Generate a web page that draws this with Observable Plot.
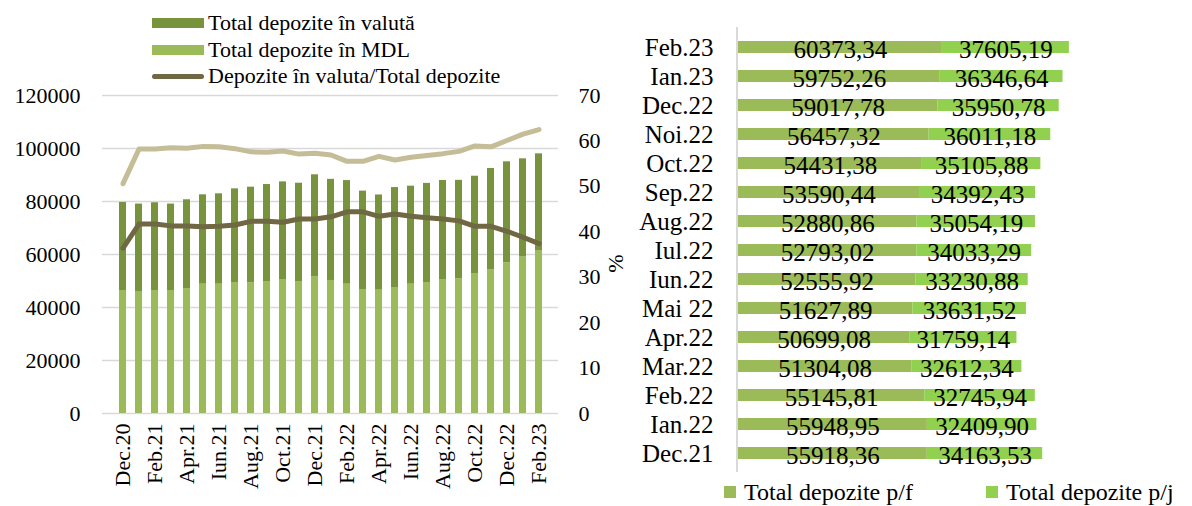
<!DOCTYPE html>
<html><head><meta charset="utf-8">
<script src="https://cdn.jsdelivr.net/npm/d3@7"></script>
<script src="https://cdn.jsdelivr.net/npm/@observablehq/plot@0.6"></script>
<style>
body{margin:0;background:#fff;font-family:"Liberation Serif",serif;}
#wrap{position:relative;width:1192px;height:506px;overflow:hidden;background:#fff;}
#left,#right{position:absolute;top:0;}
#left{left:0}
#right{left:600px}
.lg{position:absolute;display:flex;align-items:center;white-space:nowrap;color:#000;font-family:"Liberation Serif",serif;}
.sw{flex:none;}
</style></head><body>
<div id="wrap"><div id="left"></div><div id="right"></div></div>
<script>
// ---- Left chart data ----
const months = ["Dec.20","Ian.21","Feb.21","Mar.21","Apr.21","Mai.21","Iun.21","Iul.21","Aug.21","Sep.21","Oct.21","Noi.21",
  "Dec.21","Ian.22","Feb.22","Mar.22","Apr.22","Mai.22","Iun.22","Iul.22","Aug.22","Sep.22","Oct.22","Noi.22","Dec.22","Ian.23","Feb.23"];
const tickLabels = ["Dec.20","Feb.21","Apr.21","Iun.21","Aug.21","Oct.21","Dec.21","Feb.22","Apr.22","Iun.22","Aug.22","Oct.22","Dec.22","Feb.23"];
const mdl = [46400,46050,46400,46400,47150,48800,48800,49400,49300,49800,50550,49800,
  51650,50200,48800,46800,46550,47550,48800,49400,50550,50800,52650,54150,56900,59050,61300];
const valuta = [33250,32980,33130,32630,33500,33725,34100,35375,36100,36600,36850,37100,
  38432,38159,39092,37116,35908,37709,36987,37426,37385,37183,36887,38319,38069,37049,36679];
const shareValuta = [36.4,41.7,41.7,41.3,41.3,41.1,41.2,41.5,42.3,42.3,42.1,42.8,
  42.8,43.3,44.4,44.4,43.4,43.9,43.4,43.1,42.8,42.4,41.2,41.2,40.1,38.8,37.4];
const shareMDL = [50.6,58.2,58.2,58.5,58.4,58.8,58.7,58.3,57.6,57.5,57.8,57.1,
  57.3,56.9,55.5,55.5,56.6,55.8,56.4,56.8,57.2,57.7,58.9,58.7,60.1,61.5,62.5];
const leftTicks = [0,20000,40000,60000,80000,100000,120000];
const pctTicks = [0,10,20,30,40,50,60,70];

// ---- Right chart data ----
const rightMonths = ["Feb.23","Ian.23","Dec.22","Noi.22","Oct.22","Sep.22","Aug.22","Iul.22","Iun.22","Mai 22","Apr.22","Mar.22","Feb.22","Ian.22","Dec.21"];
const depPF = [60373.34,59752.26,59017.78,56457.32,54431.38,53590.44,52880.86,52793.02,52555.92,51627.89,50699.08,51304.08,55145.81,55948.95,55918.36];
const depPJ = [37605.19,36346.64,35950.78,36011.18,35105.88,34392.43,35054.19,34033.29,33230.88,33631.52,31759.14,32612.34,32745.94,32409.90,34163.53];

const FONT = "Liberation Serif";
const kPct = 120000 / 70;

const barRows = [];
months.forEach((m, i) => {
  barRows.push({m, s: "Total depozite în MDL", v: mdl[i]});
  barRows.push({m, s: "Total depozite în valută", v: valuta[i]});
});
const lineRows = months.map((m, i) => ({m, a: shareValuta[i], b: shareMDL[i]}));

const left = Plot.plot({
  width: 640, height: 506,
  marginLeft: 102, marginRight: 82, marginTop: 95, marginBottom: 93,
  style: {fontFamily: FONT, fontSize: "22px", color: "#000", background: "transparent", overflow: "visible"},
  x: {domain: months, paddingInner: 0.58, paddingOuter: 0.29, label: null},
  y: {domain: [0, 120000], label: null},
  color: {domain: ["Total depozite în MDL", "Total depozite în valută"], range: ["#9BBB59", "#77933C"]},
  marks: [
    Plot.ruleY(leftTicks, {stroke: "#d9d9d9", strokeWidth: 1.6}),
    Plot.barY(barRows, {x: "m", y: "v", fill: "s"}),
    Plot.line(lineRows, {x: "m", y: d => d.b * kPct, stroke: "#C4BD97", strokeWidth: 5, strokeLinejoin: "round", strokeLinecap: "round"}),
    Plot.line(lineRows, {x: "m", y: d => d.a * kPct, stroke: "#6F6843", strokeWidth: 5, strokeLinejoin: "round", strokeLinecap: "round"}),
    Plot.axisY({ticks: leftTicks, tickSize: 0, tickPadding: 22, tickFormat: d3.format("d"), label: null}),
    Plot.axisY({anchor: "right", ticks: pctTicks.map(p => p * kPct), tickSize: 0, tickPadding: 20,
      tickFormat: d => String(Math.round(d / kPct)), label: null}),
    Plot.axisX({ticks: tickLabels, tickRotate: -90, tickSize: 0, tickPadding: 10, label: null}),
    Plot.text(["%"], {frameAnchor: "right", dx: 57, rotate: -90, fontSize: 22, fill: "#000"})
  ]
});
document.getElementById("left").appendChild(left);

const rightRows = [];
rightMonths.forEach((m, i) => {
  rightRows.push({m, s: "Total depozite p/f", v: depPF[i]});
  rightRows.push({m, s: "Total depozite p/j", v: depPJ[i]});
});
const fmt = v => v.toFixed(2).replace(".", ",");

const right = Plot.plot({
  width: 592, height: 506,
  marginLeft: 138, marginRight: 15, marginTop: 27, marginBottom: 34,
  style: {fontFamily: FONT, fontSize: "25px", color: "#000", background: "transparent", overflow: "visible"},
  x: {domain: [0, 130000], axis: null},
  y: {domain: rightMonths, paddingInner: 0.6, paddingOuter: 0.3, label: null},
  color: {domain: ["Total depozite p/f", "Total depozite p/j"], range: ["#9BBB59", "#92D050"]},
  marks: [
    Plot.barX(rightRows, {x: "v", y: "m", fill: "s"}),
    Plot.text(rightRows, Plot.stackX({x: "v", y: "m", text: d => fmt(d.v), fontSize: 25, fill: "#000", dy: 2})),
    Plot.ruleX([0], {stroke: "#d9d9d9", strokeWidth: 2, dx: -1.5}),
    Plot.axisY({tickSize: 0, tickPadding: 25, label: null})
  ]
});
document.getElementById("right").appendChild(right);

// ---- Legends ----
const wrap = document.getElementById("wrap");
function legendItem(x, yc, sw, label, fontSize) {
  const d = document.createElement("div");
  d.className = "lg";
  d.style.left = x + "px";
  d.style.top = (yc - 14) + "px";
  d.style.height = "28px";
  d.style.lineHeight = "1";
  d.style.fontSize = fontSize + "px";
  const s = document.createElement("span");
  s.className = "sw";
  s.style.display = "inline-block";
  s.style.width = sw.w + "px";
  s.style.height = sw.h + "px";
  s.style.background = sw.c;
  s.style.borderRadius = (sw.r || 0) + "px";
  s.style.marginRight = sw.gap + "px";
  const t = document.createElement("span");
  t.textContent = label;
  d.appendChild(s); d.appendChild(t);
  wrap.appendChild(d);
}
legendItem(152, 23, {w: 52, h: 10, c: "#77933C", gap: 4}, "Total depozite în valută", 22);
legendItem(152, 49.5, {w: 52, h: 10, c: "#9BBB59", gap: 4}, "Total depozite în MDL", 22);
legendItem(152, 76, {w: 52, h: 5, c: "#6F6843", r: 3, gap: 4}, "Depozite în valuta/Total depozite", 22);
legendItem(724, 492, {w: 12, h: 12, c: "#9BBB59", gap: 8}, "Total depozite p/f", 24);
legendItem(986, 492, {w: 12, h: 12, c: "#92D050", gap: 8}, "Total depozite p/j", 24);
</script>
</body></html>
